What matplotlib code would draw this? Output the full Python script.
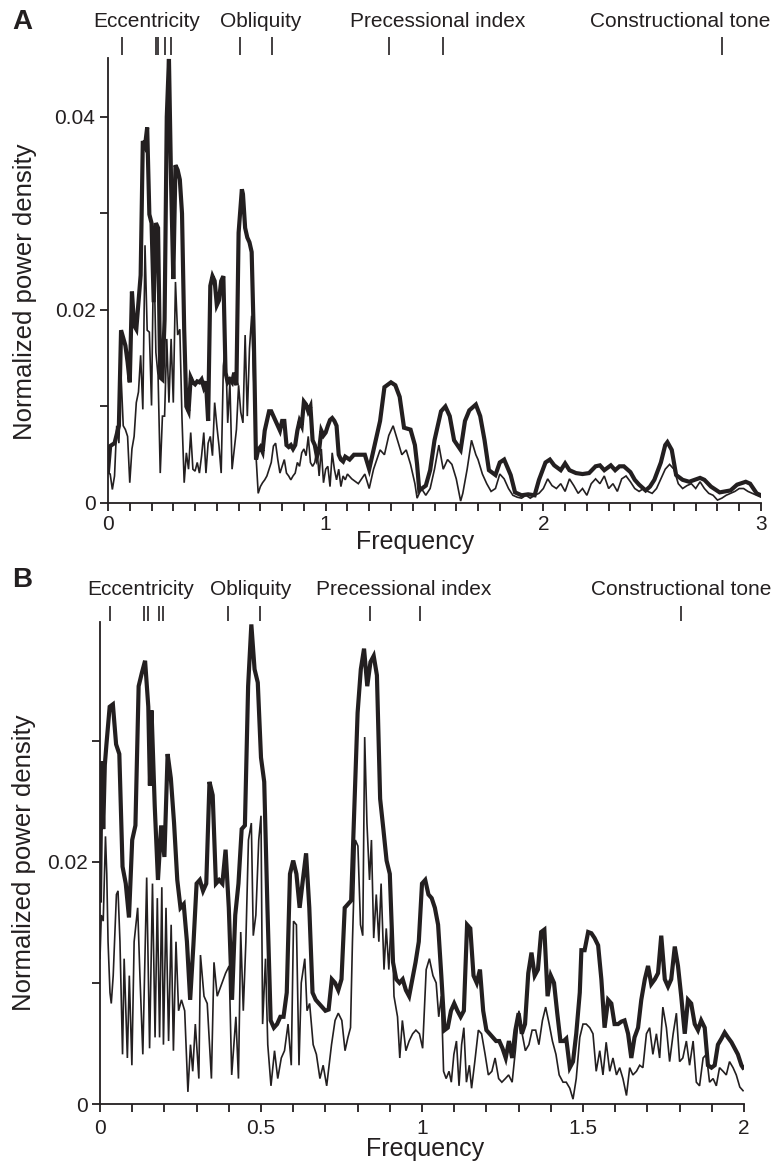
import numpy as np
import matplotlib
matplotlib.use("Agg")
import matplotlib.pyplot as plt
from matplotlib.ticker import MultipleLocator

plt.rcParams['font.family'] = ['Liberation Sans', 'DejaVu Sans']

INK = '#231f20'

# ---- panel A data (power in units of 1e-3) ----
freq_a_thick = [0.00, 0.01, 0.03, 0.05, 0.06, 0.08, 0.09, 0.10, 0.11, 0.12, 0.13, 0.15, 0.16, 0.17, 0.18, 0.19,
                0.20, 0.21, 0.22, 0.23, 0.24, 0.25, 0.26, 0.27, 0.28, 0.29, 0.30, 0.31, 0.32, 0.33, 0.34, 0.35,
                0.36, 0.37, 0.38, 0.39, 0.40, 0.41, 0.42, 0.43, 0.44, 0.45, 0.46, 0.47, 0.48, 0.49, 0.50, 0.51,
                0.52, 0.53, 0.54, 0.55, 0.56, 0.57, 0.58, 0.59, 0.60, 0.615, 0.62, 0.63, 0.64, 0.65, 0.66, 0.67,
                0.68, 0.69, 0.70, 0.71, 0.72, 0.73, 0.74, 0.75, 0.76, 0.77, 0.78, 0.79, 0.80, 0.81, 0.82, 0.83,
                0.84, 0.85, 0.86, 0.87, 0.88, 0.89, 0.90, 0.91, 0.92, 0.93, 0.94, 0.95, 0.96, 0.97, 0.98, 0.99,
                1.00, 1.01, 1.02, 1.03, 1.04, 1.05, 1.06, 1.07, 1.08, 1.09, 1.11, 1.13, 1.16, 1.18, 1.20, 1.25,
                1.27, 1.30, 1.32, 1.34, 1.36, 1.39, 1.41, 1.42, 1.43, 1.46, 1.48, 1.50, 1.53, 1.55, 1.57, 1.59,
                1.62, 1.64, 1.66, 1.69, 1.71, 1.73, 1.75, 1.78, 1.80, 1.82, 1.85, 1.87, 1.90, 1.93, 1.96, 1.98,
                2.01, 2.03, 2.05, 2.08, 2.10, 2.12, 2.15, 2.18, 2.21, 2.24, 2.26, 2.28, 2.31, 2.33, 2.35, 2.37,
                2.40, 2.42, 2.44, 2.47, 2.49, 2.51, 2.54, 2.56, 2.57, 2.59, 2.61, 2.64, 2.67, 2.72, 2.74, 2.77,
                2.81, 2.86, 2.89, 2.93, 2.95, 2.98, 3.00]
power_a_thick = [3.3, 5.9, 6.2, 8.0, 17.9, 16.3, 14.6, 12.5, 21.9, 18.4, 18.0, 23.6, 37.5, 37.0, 38.9, 29.9,
                 29.0, 20.8, 29.0, 28.5, 13.0, 12.8, 19.0, 40.0, 46.0, 33.0, 23.2, 35.0, 34.5, 33.5, 30.0, 18.0,
                 10.0, 9.5, 13.0, 12.5, 12.3, 12.6, 12.5, 12.8, 12.0, 12.6, 8.5, 22.5, 23.5, 23.0, 20.5, 21.0,
                 23.0, 23.5, 13.5, 12.5, 12.8, 12.5, 13.5, 12.2, 28.0, 32.5, 32.0, 28.5, 27.5, 27.0, 26.0, 17.0,
                 4.5, 5.5, 5.8, 5.3, 7.5, 8.5, 9.5, 9.5, 9.0, 8.5, 8.0, 7.5, 8.5, 8.5, 6.0, 5.8,
                 6.0, 5.6, 6.0, 7.5, 8.5, 8.0, 10.5, 10.2, 9.5, 10.0, 6.5, 6.0, 4.8, 5.5, 7.5, 7.0,
                 7.3, 8.0, 8.6, 8.8, 8.5, 8.0, 5.0, 4.5, 4.3, 4.8, 4.5, 5.0, 5.0, 5.0, 3.5, 8.5,
                 12.0, 12.5, 12.2, 11.0, 7.8, 7.6, 6.0, 4.0, 1.3, 1.8, 3.4, 6.5, 9.5, 10.0, 9.0, 6.5,
                 5.5, 8.5, 9.6, 10.2, 9.0, 6.5, 3.4, 2.9, 4.2, 4.5, 2.9, 1.1, 0.8, 0.9, 0.8, 2.4,
                 4.2, 4.5, 3.9, 3.4, 4.1, 3.4, 3.1, 3.0, 3.1, 3.8, 3.9, 3.4, 3.9, 3.4, 3.8, 3.8,
                 3.2, 2.4, 1.9, 1.3, 1.7, 2.4, 4.2, 6.0, 6.3, 5.5, 2.9, 2.4, 2.2, 2.6, 2.4, 1.7,
                 1.1, 1.3, 1.9, 2.2, 2.0, 1.0, 0.8]

freq_a_thin = [round(0.01 * i, 2) for i in range(111)] + [
    1.12, 1.15, 1.18, 1.20, 1.22, 1.25, 1.27, 1.29, 1.31, 1.33, 1.35, 1.37, 1.39, 1.41, 1.42, 1.44,
    1.46, 1.48, 1.50, 1.52, 1.54, 1.56, 1.58, 1.60, 1.62, 1.63, 1.65, 1.67, 1.69, 1.70, 1.72, 1.74,
    1.76, 1.78, 1.80, 1.82, 1.84, 1.86, 1.88, 1.90, 1.92, 1.94, 1.96, 1.98, 2.00, 2.02, 2.04, 2.06,
    2.08, 2.10, 2.12, 2.14, 2.16, 2.18, 2.20, 2.22, 2.24, 2.26, 2.28, 2.30, 2.32, 2.34, 2.36, 2.38,
    2.40, 2.42, 2.44, 2.46, 2.48, 2.50, 2.52, 2.54, 2.56, 2.58, 2.60, 2.62, 2.64, 2.66, 2.68, 2.70,
    2.72, 2.74, 2.76, 2.78, 2.80, 2.82, 2.84, 2.86, 2.88, 2.90, 2.92, 2.94, 2.96, 2.98, 3.00]
power_a_thin = [3.1, 3.0, 1.4, 2.8, 8.0, 6.2, 13.2, 8.0, 7.6, 6.9,
                2.1, 5.6, 6.9, 10.4, 11.5, 15.3, 9.7, 26.7, 17.9, 17.7,
                10.1, 27.0, 15.6, 13.2, 3.1, 9.0, 9.0, 17.0, 10.4, 17.0,
                10.4, 22.9, 17.4, 18.0, 8.7, 2.1, 5.2, 3.5, 7.3, 3.5,
                3.3, 4.2, 3.1, 4.9, 7.3, 3.1, 6.2, 6.9, 4.9, 10.4,
                8.0, 5.9, 3.1, 14.2, 16.3, 8.3, 12.5, 3.5, 5.6, 7.6,
                12.2, 9.4, 8.3, 17.4, 9.0, 16.0, 19.4, 12.5, 4.9, 1.0,
                1.7, 2.1, 2.4, 2.8, 3.5, 4.2, 5.9, 6.2, 4.5, 3.1,
                3.8, 4.5, 3.1, 2.8, 2.4, 2.8, 3.1, 4.2, 3.8, 5.2,
                5.6, 4.9, 6.9, 4.2, 3.8, 4.2, 5.6, 2.8, 5.6, 2.1,
                3.5, 3.8, 1.7, 5.2, 3.5, 2.4, 3.5, 1.7, 2.8, 2.4,
                3.0,
                2.5, 2.0, 3.0, 1.5, 3.5, 5.5, 5.0, 7.0, 8.0, 6.5, 5.0, 5.5, 4.0, 2.0, 0.5, 1.5,
                0.8, 1.5, 3.5, 6.0, 3.5, 4.5, 4.0, 2.5, 0.2, 1.0, 3.5, 6.5, 5.0, 4.5, 3.0, 2.0,
                1.2, 1.5, 3.0, 2.5, 1.5, 0.8, 0.6, 0.5, 0.8, 0.5, 0.8, 1.0, 1.5, 2.5, 1.8, 1.5,
                2.0, 1.2, 2.5, 1.8, 1.0, 1.5, 0.8, 2.0, 2.5, 2.0, 2.8, 1.5, 2.0, 1.2, 2.5, 2.8,
                2.2, 1.5, 1.2, 1.5, 1.2, 1.0, 1.5, 2.5, 3.5, 4.0, 3.5, 2.0, 1.5, 1.8, 2.0, 1.5,
                2.2, 1.5, 1.0, 0.8, 0.3, 0.5, 0.8, 1.0, 1.2, 1.5, 1.5, 1.2, 1.0, 0.8, 0.6]

# ---- panel B data (power in units of 1e-3) ----
freq_b_thick = [0.000, 0.005, 0.010, 0.015, 0.020, 0.030, 0.040, 0.050, 0.060, 0.070, 0.080, 0.090, 0.100,
                0.110, 0.120, 0.130, 0.140, 0.150, 0.155, 0.160, 0.170, 0.180, 0.190, 0.200, 0.210, 0.220,
                0.230, 0.240, 0.250, 0.260, 0.270, 0.280, 0.290, 0.300, 0.310, 0.320, 0.330, 0.340, 0.350,
                0.360, 0.370, 0.380, 0.390, 0.400, 0.410, 0.420, 0.430, 0.440, 0.450, 0.460, 0.470, 0.480,
                0.490, 0.500, 0.510, 0.520, 0.530, 0.540, 0.550, 0.560, 0.570, 0.580, 0.590, 0.600, 0.610,
                0.620, 0.630, 0.640, 0.650, 0.660, 0.670, 0.680, 0.690, 0.700, 0.710, 0.720, 0.730, 0.740,
                0.750, 0.760, 0.770, 0.780, 0.790, 0.800, 0.810, 0.820, 0.830, 0.840, 0.850, 0.860, 0.870,
                0.880, 0.890, 0.900, 0.910, 0.920, 0.930, 0.940, 0.950, 0.960, 0.970, 0.980, 0.990, 1.000,
                1.010, 1.020, 1.030, 1.040, 1.050, 1.060, 1.070, 1.080, 1.090, 1.100, 1.110, 1.120, 1.130,
                1.140, 1.150, 1.160, 1.170, 1.180, 1.190, 1.200, 1.210, 1.220, 1.230, 1.240, 1.250, 1.260,
                1.270, 1.280, 1.290, 1.300, 1.310, 1.320, 1.330, 1.340, 1.350, 1.360, 1.370, 1.380, 1.390,
                1.400, 1.410, 1.420, 1.430, 1.440, 1.448, 1.459, 1.469, 1.479, 1.490, 1.495, 1.505, 1.516,
                1.526, 1.536, 1.547, 1.557, 1.567, 1.578, 1.588, 1.598, 1.609, 1.619, 1.629, 1.640, 1.650,
                1.660, 1.671, 1.681, 1.692, 1.702, 1.712, 1.723, 1.733, 1.743, 1.754, 1.764, 1.774, 1.785,
                1.795, 1.805, 1.816, 1.826, 1.836, 1.847, 1.857, 1.867, 1.878, 1.888, 1.899, 1.909, 1.919,
                1.930, 1.940, 1.950, 1.961, 1.971, 1.981, 1.992, 1.997]
power_b_thick = [16.8, 28.3, 22.7, 28.0, 29.7, 32.8, 33.0, 29.7, 28.9, 19.6, 18.2, 15.4, 21.8,
                 23.0, 34.5, 35.6, 36.6, 32.8, 26.3, 32.5, 24.6, 18.5, 23.0, 20.4, 28.9, 26.9,
                 23.2, 18.5, 16.2, 16.5, 13.4, 8.6, 13.1, 18.2, 18.5, 17.6, 18.2, 26.6, 25.5,
                 18.2, 18.5, 18.2, 21.0, 16.2, 8.6, 15.6, 18.2, 22.7, 23.0, 34.5, 39.6, 35.9,
                 34.8, 28.6, 26.6, 16.2, 6.9, 6.3, 6.6, 7.2, 7.2, 9.2, 19.0, 20.1, 19.0,
                 16.2, 18.5, 20.7, 16.2, 9.2, 8.6, 8.3, 8.0, 7.7, 7.8, 10.3, 10.0, 9.4,
                 10.3, 16.2, 16.5, 16.8, 24.6, 32.3, 35.9, 37.6, 34.5, 36.5, 37.0, 35.4, 25.2,
                 22.7, 20.1, 19.0, 11.7, 10.3, 10.0, 10.3, 9.4, 8.9, 10.3, 11.7, 13.4, 18.2,
                 18.5, 17.3, 17.0, 16.2, 14.8, 10.6, 6.1, 6.3, 7.7, 8.3, 7.7, 7.2, 7.7,
                 14.8, 14.5, 10.6, 10.0, 11.1, 7.7, 6.1, 5.8, 5.5, 5.2, 5.2, 4.6, 3.8,
                 5.2, 3.8, 6.1, 7.5, 5.8, 6.6, 10.8, 12.5, 10.6, 11.1, 14.2, 14.4, 8.9,
                 10.6, 10.0, 7.5, 5.2, 5.2, 5.4, 3.0, 3.5, 5.8, 9.2, 12.7, 12.7, 14.2,
                 14.1, 13.7, 13.1, 10.3, 6.3, 8.6, 8.3, 6.6, 6.6, 6.8, 6.9, 5.8, 3.8,
                 5.5, 6.3, 8.6, 10.3, 11.4, 9.9, 10.3, 10.8, 13.9, 10.3, 9.7, 10.3, 13.0,
                 11.4, 8.9, 5.8, 8.6, 8.3, 6.6, 6.1, 6.9, 6.3, 3.2, 3.0, 3.2, 4.9,
                 5.4, 5.9, 5.5, 5.1, 4.6, 4.1, 3.2, 3.0]

freq_b_thin = [0.000, 0.004, 0.010, 0.017, 0.021, 0.025, 0.031, 0.035, 0.041, 0.051, 0.056, 0.062, 0.070,
               0.075, 0.085, 0.091, 0.099, 0.106, 0.117, 0.124, 0.133, 0.145, 0.154, 0.163, 0.171, 0.178,
               0.185, 0.192, 0.197, 0.205, 0.213, 0.221, 0.228, 0.236, 0.244, 0.253, 0.263, 0.273, 0.281,
               0.288, 0.296, 0.307, 0.312, 0.323, 0.333, 0.346, 0.354, 0.364, 0.375, 0.390, 0.401, 0.409,
               0.422, 0.430, 0.437, 0.445, 0.453, 0.461, 0.470, 0.476, 0.484, 0.493, 0.500, 0.505, 0.514,
               0.521, 0.531, 0.542, 0.552, 0.563, 0.573, 0.584, 0.594, 0.601, 0.610, 0.618, 0.625, 0.636,
               0.643, 0.651, 0.662, 0.672, 0.683, 0.693, 0.704, 0.719, 0.730, 0.740, 0.751, 0.761, 0.770,
               0.778, 0.784, 0.793, 0.801, 0.809, 0.816, 0.822, 0.829, 0.837, 0.843, 0.850, 0.858, 0.866,
               0.873, 0.882, 0.889, 0.897, 0.906, 0.913, 0.924, 0.931, 0.939, 0.950, 0.960, 0.971, 0.981,
               0.992, 1.002, 1.013, 1.023, 1.034, 1.044, 1.052, 1.060, 1.067, 1.075, 1.084, 1.091, 1.099,
               1.107, 1.115, 1.123, 1.130, 1.138, 1.147, 1.154, 1.164, 1.175, 1.185, 1.196, 1.206, 1.217,
               1.227, 1.238, 1.248, 1.259, 1.269, 1.280, 1.290, 1.301, 1.311, 1.321, 1.332, 1.342, 1.353,
               1.363, 1.374, 1.384, 1.395, 1.405, 1.416, 1.426, 1.438, 1.448, 1.459, 1.469, 1.479, 1.490,
               1.500, 1.510, 1.521, 1.531, 1.541, 1.552, 1.562, 1.572, 1.583, 1.593, 1.604, 1.614, 1.624,
               1.635, 1.645, 1.655, 1.666, 1.676, 1.686, 1.697, 1.707, 1.717, 1.728, 1.738, 1.748, 1.759,
               1.769, 1.780, 1.790, 1.800, 1.810, 1.821, 1.831, 1.842, 1.852, 1.862, 1.873, 1.883, 1.893,
               1.904, 1.914, 1.924, 1.935, 1.945, 1.955, 1.966, 1.976, 1.987, 1.997]
power_b_thin = [12.0, 15.6, 15.1, 22.1, 19.0, 13.4, 9.2, 8.3, 10.6, 17.3, 17.6, 13.4, 4.1,
                12.0, 3.8, 10.6, 3.2, 13.4, 16.2, 10.6, 4.1, 18.7, 4.6, 18.2, 5.5, 17.0,
                5.5, 17.9, 4.9, 16.2, 5.2, 14.8, 4.4, 13.4, 7.7, 8.6, 7.7, 1.0, 4.9,
                2.7, 6.6, 2.1, 12.3, 8.9, 8.3, 2.1, 11.7, 8.9, 9.7, 10.8, 11.4, 2.4,
                7.2, 2.1, 14.2, 7.7, 13.4, 21.8, 23.2, 13.9, 15.6, 21.8, 23.8, 6.6, 12.0,
                4.9, 1.5, 4.4, 2.1, 3.8, 4.4, 6.6, 3.2, 15.1, 14.8, 3.2, 10.0, 12.0,
                7.7, 8.3, 4.9, 4.1, 2.1, 3.2, 1.5, 4.9, 6.9, 7.5, 6.9, 4.4, 5.5,
                6.3, 13.4, 21.8, 21.3, 14.8, 13.9, 30.3, 23.2, 18.5, 21.8, 13.7, 17.3, 13.4,
                18.2, 11.1, 14.5, 11.1, 16.2, 8.9, 7.2, 3.8, 6.9, 4.4, 5.2, 5.8, 6.1,
                5.8, 4.6, 11.1, 12.0, 10.6, 10.0, 7.2, 8.9, 2.7, 2.1, 2.7, 1.8, 4.1,
                5.2, 1.5, 4.9, 6.3, 1.8, 3.2, 1.3, 3.5, 6.1, 5.8, 4.1, 2.4, 2.7,
                3.8, 2.1, 1.8, 2.1, 2.4, 1.8, 4.4, 7.7, 5.8, 4.4, 4.9, 6.1, 6.1,
                4.9, 6.9, 8.0, 6.6, 5.2, 4.1, 2.4, 1.8, 1.8, 1.3, 0.4, 2.1, 5.5,
                6.6, 6.6, 6.3, 5.8, 2.7, 4.4, 2.4, 5.1, 2.7, 3.8, 2.4, 3.0, 2.1,
                0.7, 3.0, 2.4, 2.7, 3.2, 3.0, 5.8, 6.3, 4.1, 5.8, 3.8, 8.0, 6.3,
                3.5, 5.8, 7.5, 3.5, 3.8, 5.2, 3.2, 5.2, 1.8, 1.5, 3.8, 4.1, 1.8,
                2.1, 1.5, 3.0, 2.7, 2.4, 3.5, 3.0, 2.4, 1.4, 1.1]

# orbital band marks (frequency) and band names
bands = ['Eccentricity', 'Obliquity', 'Precessional index', 'Constructional tone']
marks_a = [0.064, 0.221, 0.230, 0.262, 0.289, 0.606, 0.753, 1.291, 1.539, 2.820]
band_x_a = [0.179, 0.703, 1.513, 2.627]
marks_b = [0.031, 0.138, 0.150, 0.184, 0.196, 0.396, 0.497, 0.837, 0.994, 1.804]
band_x_b = [0.127, 0.469, 0.944, 1.804]


def draw_panel(ax, ft, pt, fn, pn, xmax, ymax, xticks, xlabels, yticks, ylabels,
               marks, band_x, mark_y, text_y, xlab_y, ylab_x, ylab_y, xlab_x, xpad):
    ax.plot(fn, np.array(pn) * 1e-3, color=INK, lw=1.2, solid_joinstyle='miter')
    ax.plot(ft, np.array(pt) * 1e-3, color=INK, lw=3.0, solid_joinstyle='miter')
    ax.set_xlim(0, xmax)
    ax.set_ylim(0, ymax)
    for s in ['top', 'right']:
        ax.spines[s].set_visible(False)
    for s in ['left', 'bottom']:
        ax.spines[s].set_linewidth(1.3)
        ax.spines[s].set_color(INK)
    ax.set_xticks(xticks)
    ax.set_xticklabels(xlabels)
    ax.xaxis.set_minor_locator(MultipleLocator(0.1))
    ax.set_yticks(yticks)
    ax.set_yticklabels(ylabels)
    ax.tick_params(which='both', direction='out', length=6, width=1.3, color=INK,
                   labelsize=15, labelcolor=INK, pad=3)
    ax.tick_params(axis='x', which='major', pad=xpad)
    ax.set_xlabel('Frequency', fontsize=18, color=INK)
    ax.xaxis.set_label_coords(xlab_x, xlab_y)
    ax.set_ylabel('Normalized power density', fontsize=18.5, color=INK)
    ax.yaxis.set_label_coords(ylab_x, ylab_y)
    tr = ax.get_xaxis_transform()
    ax.vlines(marks, mark_y[0], mark_y[1], transform=tr, colors=INK, lw=1.2, clip_on=False)
    for name, x in zip(bands, band_x):
        ax.text(x, text_y, name, transform=tr, ha='center', va='center',
                fontsize=15, color=INK, clip_on=False)


fig = plt.figure(figsize=(7.75, 11.66), dpi=100)

ax_a = fig.add_axes([108 / 775, 1 - 503 / 1166, 653 / 775, 445 / 1166])
draw_panel(ax_a, freq_a_thick, power_a_thick, freq_a_thin, power_a_thin,
           3, 0.0461, [0, 1, 2, 3], ['0', '1', '2', '3'],
           [0, 0.01, 0.02, 0.03, 0.04], ['0', '', '0.02', '', '0.04'],
           marks_a, band_x_a, (1.007, 1.047), 1.081, -0.06, -0.109, 0.474, 0.47, 3)

ax_b = fig.add_axes([100 / 775, 1 - 1104 / 1166, 644 / 775, 482 / 1166])
draw_panel(ax_b, freq_b_thick, power_b_thick, freq_b_thin, power_b_thin,
           2, 0.0398, [0, 0.5, 1, 1.5, 2], ['0', '0.5', '1', '1.5', '2'],
           [0, 0.01, 0.02, 0.03], ['0', '', '0.02', ''],
           marks_b, band_x_b, (1.002, 1.033), 1.068, -0.068, -0.099, 0.5, 0.505, 5)

fig.text(12 / 775, 1 - 22 / 1166, 'A', fontsize=20, fontweight='bold', color=INK, va='center')
fig.text(12 / 775, 1 - 580 / 1166, 'B', fontsize=20, fontweight='bold', color=INK, va='center')

fig.savefig('out.png', dpi=100)
